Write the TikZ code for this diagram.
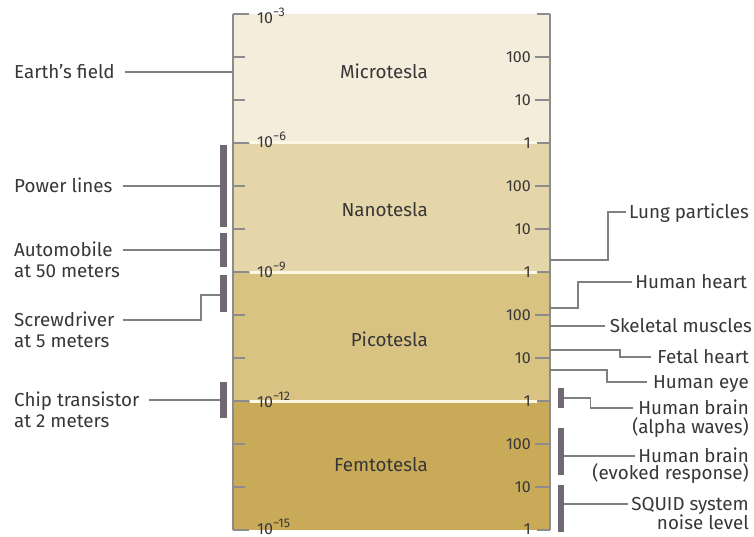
\documentclass[tikz,border=0pt]{standalone}
\usepackage{fontspec}
\setmainfont{Fira Sans}
\definecolor{micro}{RGB}{244,237,220}
\definecolor{nano}{RGB}{229,214,170}
\definecolor{pico}{RGB}{216,195,131}
\definecolor{femto}{RGB}{201,170,88}
\definecolor{axisgray}{RGB}{140,140,140}
\definecolor{linegray}{RGB}{128,128,128}
\definecolor{bargray}{RGB}{112,104,114}
\definecolor{txt}{RGB}{55,55,55}
\definecolor{sepc}{RGB}{252,247,228}
\newcommand\tenpow[1]{10\raisebox{0.45em}{\fontsize{12.5}{12.5}\selectfont −#1}}
\begin{document}
\begin{tikzpicture}[x=1pt,y=-1pt,
  lbl/.style={font=\fontsize{18.8}{18.8}\selectfont, text=txt, inner sep=0pt, text height=13pt, text depth=0pt},
  ticklbl/.style={font=\fontsize{16}{16}\selectfont, text=txt, inner sep=0pt, text height=11pt, text depth=0pt},
  band/.style={minimum width=317pt, minimum height=129pt, inner sep=0pt, draw=none, anchor=north west},
  conn/.style={draw=linegray, line width=1.5pt},
  axisline/.style={draw=axisgray, line width=2pt},
  sepline/.style={draw=sepc, line width=3pt},
  bar/.style={fill=bargray, minimum width=6.5pt, inner sep=0pt},
]
\fill[white] (0,0) rectangle (754,537);
\useasboundingbox (0,0) rectangle (754,537);
% bands
\node[band, fill=micro] (micro) at (233,14) {};
\node[band, fill=nano] (nano) at (233,143) {};
\node[band, fill=pico] (pico) at (233,272) {};
\node[band, fill=femto] (femto) at (233,401) {};
% separators
\foreach \y in {143,272,401} \draw[sepline] (250,\y) -- (537,\y);
% axes
\draw[axisline] (micro.north west) -- (femto.south west);
\draw[axisline] (micro.north east) -- (femto.south east);
\foreach \k in {1,2,4,5,7,8,10,11} {
  \draw[axisline] (233,14+43*\k) -- (245,14+43*\k);
  \draw[axisline] (535,14+43*\k) -- (550,14+43*\k);
}
\foreach \k in {0,3,6,9,12} {
  \draw[axisline] (233,14+43*\k) -- (249,14+43*\k);
  \draw[axisline] (537,14+43*\k) -- (550,14+43*\k);
}
% left tick labels
\node[ticklbl, anchor=west] (t3) at (257,18) {\tenpow{3}};
\node[ticklbl, anchor=west] (t6) at (257,142) {\tenpow{6}};
\node[ticklbl, anchor=west] (t9) at (257,272) {\tenpow{9}};
\node[ticklbl, anchor=west] (t12) at (257,402) {\tenpow{12}};
\node[ticklbl, anchor=west] (t15) at (257,529) {\tenpow{15}};
% right tick labels
\foreach \b in {0,1,2} {
  \node[ticklbl, anchor=east] at (531,57+129*\b) {100};
  \node[ticklbl, anchor=east] at (531,100+129*\b) {10};
  \node[ticklbl, anchor=east] at (531,143+129*\b) {1};
}
\node[ticklbl, anchor=east] at (531,444) {100};
\node[ticklbl, anchor=east] at (531,487) {10};
\node[ticklbl, anchor=east] at (531,529) {1};
% band names
\node[lbl, anchor=east] (nmicro) at (428,72) {Microtesla};
\node[lbl, anchor=east] (nnano) at (428,210) {Nanotesla};
\node[lbl, anchor=east] (npico) at (428,340) {Picotesla};
\node[lbl, anchor=east] (nfemto) at (428,465) {Femtotesla};
% left labels
\node[lbl, anchor=west] (earth) at (14,72) {Earth’s field};
\node[lbl, anchor=west] (power) at (14,186) {Power lines};
\node[lbl, anchor=west] (auto) at (14,250) {Automobile};
\node[lbl, anchor=west] (auto2) at (14,271) {at 50 meters};
\node[lbl, anchor=west] (screw) at (14,320) {Screwdriver};
\node[lbl, anchor=west] (screw2) at (14,341) {at 5 meters};
\node[lbl, anchor=west] (chip) at (14,400) {Chip transistor};
\node[lbl, anchor=west] (chip2) at (14,421) {at 2 meters};
% left bars
\node[bar, minimum height=82pt] (powerbar) at (223.5,186) {};
\node[bar, minimum height=34pt] (autobar) at (223.5,250) {};
\node[bar, minimum height=37pt] (screwbar) at (223.5,293.5) {};
\node[bar, minimum height=36pt] (chipbar) at (223.5,400) {};
% left connectors
\draw[conn, shorten <=10pt] (earth.east) -- (earth.east -| micro.west);
\draw[conn, shorten <=10pt] (power.east) -- (power.east -| powerbar.west);
\draw[conn, shorten <=10pt] (auto.east) -- (auto.east -| autobar.west);
\coordinate (screwK) at (201,295);
\draw[conn, shorten <=8pt] (screw.east) -| (screwK) -- (screwK -| screwbar.west);
\draw[conn, shorten <=10pt] (chip.east) -- (chip.east -| chipbar.west);
% right labels
\node[lbl, anchor=east] (lung) at (749,212) {Lung particles};
\node[lbl, anchor=east] (heart) at (747,282) {Human heart};
\node[lbl, anchor=east] (skel) at (752,326) {Skeletal muscles};
\node[lbl, anchor=east] (fetal) at (749,357) {Fetal heart};
\node[lbl, anchor=east] (eye) at (749,382) {Human eye};
\node[lbl, anchor=east] (brainA) at (749,408) {Human brain};
\node[lbl, anchor=east] (brainA2) at (749,427) {(alpha waves)};
\node[lbl, anchor=east] (brainB) at (749,456) {Human brain};
\node[lbl, anchor=east] (brainB2) at (749,473) {(evoked response)};
\node[lbl, anchor=east] (squid) at (749,504) {SQUID system};
\node[lbl, anchor=east] (squid2) at (749,523) {noise level};
% right bars
\node[bar, minimum height=20pt] (brainAbar) at (561,398) {};
\node[bar, minimum height=47pt] (brainBbar) at (561,451.5) {};
\node[bar, minimum height=47pt] (squidbar) at (561,508.5) {};
% right connectors
\coordinate (lungS) at (550,260);
\coordinate (heartS) at (550,308);
\coordinate (skelS) at (550,326);
\coordinate (fetalS) at (550,350);
\coordinate (eyeS) at (550,370);
\draw[conn, shorten >=3pt] (lungS) -- ++(58,0) |- (lung.west);
\draw[conn, shorten >=3pt] (heartS) -- ++(28,0) |- (heart.west);
\draw[conn, shorten >=5pt] (skelS) -- (skel.west);
\draw[conn, shorten >=6pt] (fetalS) -- ++(70,0) |- (fetal.west);
\draw[conn, shorten >=6pt] (eyeS) -- ++(57,0) |- (eye.west);
\draw[conn, shorten >=5pt] (brainAbar.east) -- ++(26,0) |- (brainA.west);
\draw[conn, shorten >=3pt] (brainB.west -| brainBbar.east) -- (brainB.west);
\draw[conn, shorten >=3pt] (squid.west -| squidbar.east) -- (squid.west);
\end{tikzpicture}
\end{document}
